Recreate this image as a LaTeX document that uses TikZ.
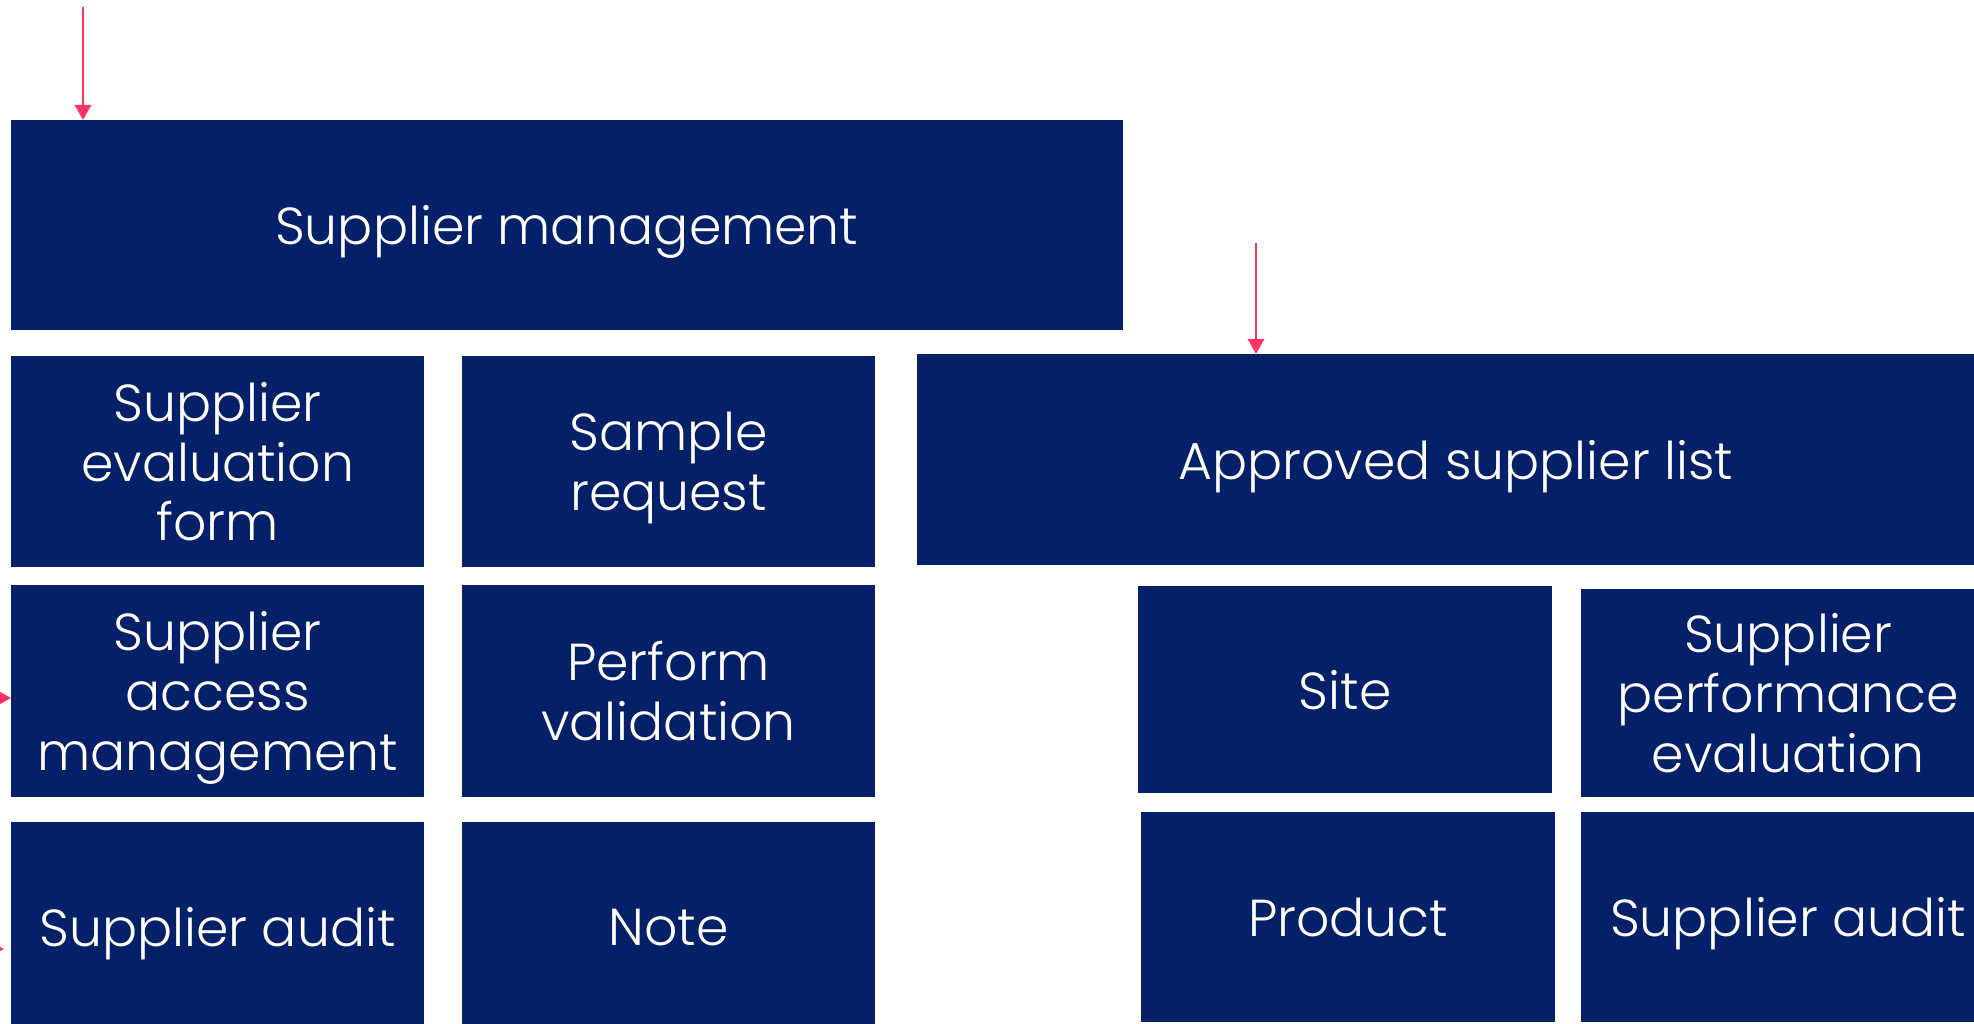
\documentclass[tikz,border=0pt]{standalone}
\usepackage{fontspec}
\setmainfont{Poppins}[UprightFont=* Light]
\usetikzlibrary{arrows.meta}
\definecolor{navy}{RGB}{3,32,104}
\definecolor{pinkred}{RGB}{255,51,102}
\begin{document}
\begin{tikzpicture}[x=0.01cm,y=-0.01cm,
  blk/.style={fill=navy,text=white,inner sep=0pt,outer sep=0pt,anchor=north west,align=center,
    text depth=0pt,font=\fontsize{14.8}{17}\selectfont},
  arr/.style={draw=pinkred,line width=0.85pt,-{Triangle[width=4.6pt,length=4.3pt]}}]
\useasboundingbox (0,0) rectangle (1974,1024);
\clip (0,0) rectangle (1974,1024);
\node[blk,minimum width=11.11cm,minimum height=2.10cm] (sm) at (11,120) {Supplier management};
\node[blk,minimum width=4.13cm,minimum height=2.11cm] (sef) at (11,356) {Supplier\\evaluation\\form};
\node[blk,minimum width=4.13cm,minimum height=2.11cm] (sr) at (462,356) {Sample\\request};
\node[blk,minimum width=4.13cm,minimum height=2.12cm] (sam) at (11,585) {Supplier\\access\\management};
\node[blk,minimum width=4.13cm,minimum height=2.12cm] (pv) at (462,585) {Perform\\validation};
\node[blk,minimum width=4.13cm,minimum height=2.10cm] (sa1) at (11,822) {Supplier audit};
\node[blk,minimum width=4.13cm,minimum height=2.10cm] (note) at (462,822) {Note};
\node[blk,minimum width=10.77cm,minimum height=2.11cm] (asl) at (917,354) {Approved supplier list};
\node[blk,minimum width=4.14cm,minimum height=2.07cm] (site) at (1138,586) {Site};
\node[blk,minimum width=4.14cm,minimum height=2.08cm] (spe) at (1581,589) {Supplier\\performance\\evaluation};
\node[blk,minimum width=4.14cm,minimum height=2.10cm] (prod) at (1141,812) {Product};
\node[blk,minimum width=4.14cm,minimum height=2.10cm] (sa2) at (1581,812) {Supplier audit};
\coordinate (a1s) at (83,7);
\coordinate (a2s) at (1256,243);
\coordinate (a3s) at (-40,698);
\coordinate (a4s) at (-40,949);
\draw[arr] (a1s) -- (sm.north -| a1s);
\draw[arr] (a2s) -- (asl.north -| a2s);
\draw[arr] (a3s) -- (sam.west |- a3s);
\draw[arr,shorten >=2pt] (a4s) -- (sa1.west |- a4s);
\end{tikzpicture}
\end{document}
